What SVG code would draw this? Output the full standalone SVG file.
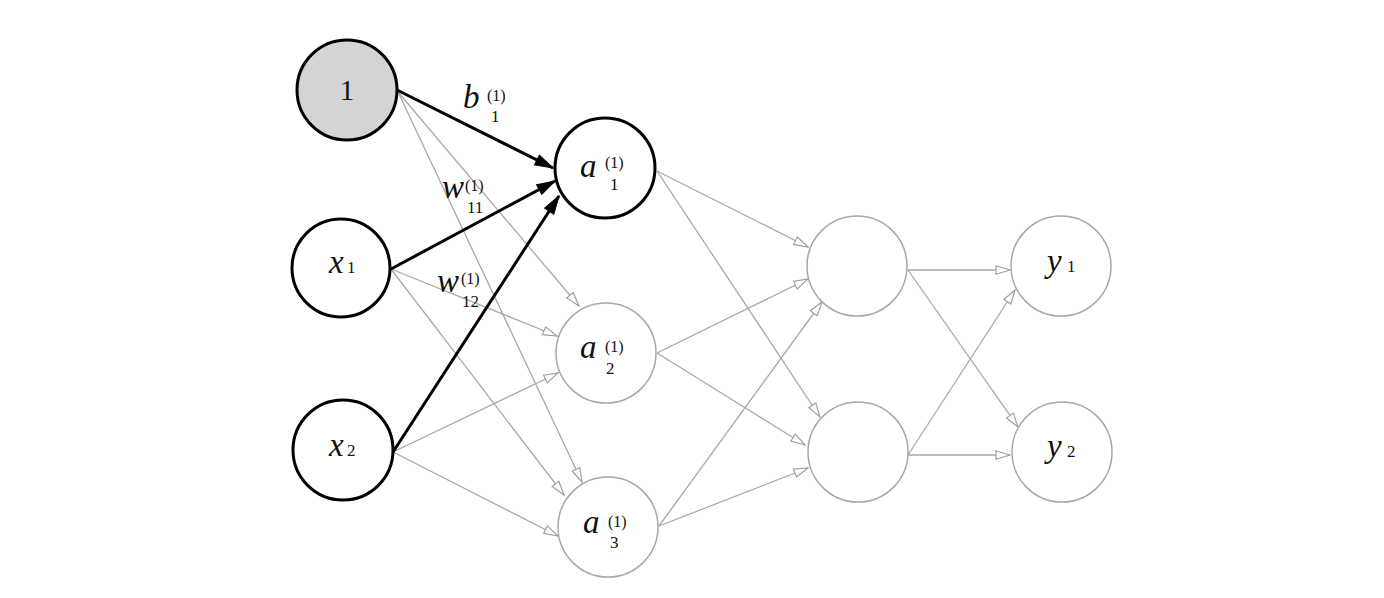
<svg xmlns="http://www.w3.org/2000/svg" width="1384" height="598" viewBox="0 0 1384 598">
<defs>
<marker id="ahB" markerUnits="userSpaceOnUse" markerWidth="20" markerHeight="14" viewBox="0 0 20 14" refX="19" refY="7" orient="auto">
<path d="M1,1.5 L19,7 L1,12.5 Z" fill="#000" stroke="#000" stroke-width="1"/>
</marker>
<marker id="ahG" markerUnits="userSpaceOnUse" markerWidth="16" markerHeight="12" viewBox="0 0 16 12" refX="15" refY="6" orient="auto">
<path d="M1,1.8 L15,6 L1,10.2 Z" fill="#fff" stroke="#a0a0a0" stroke-width="1.2"/>
</marker>
</defs>
<style>
.bk{fill:#fff;stroke:#000;stroke-width:3}
.gr{fill:#fff;stroke:#a8a8a8;stroke-width:1.5}
.eb{stroke:#000;stroke-width:3;fill:none;marker-end:url(#ahB)}
.eg{stroke:#a8a8a8;stroke-width:1.3;fill:none;marker-end:url(#ahG)}
text{font-family:"Liberation Serif","Times New Roman",serif;fill:#111}
.v{font-style:italic;font-size:33px}
.sup{font-size:16px}
.sub{font-size:17px}
.num{font-size:29px}
</style>
<rect width="1384" height="598" fill="#fff"/>
<g id="connectors">
<line class="eg" x1="398" y1="92" x2="579" y2="306"/>
<line class="eg" x1="398" y1="92" x2="582" y2="482"/>
<line class="eg" x1="391" y1="269" x2="557" y2="336"/>
<line class="eg" x1="391" y1="269" x2="564" y2="495"/>
<line class="eg" x1="393" y1="452" x2="558" y2="373"/>
<line class="eg" x1="393" y1="452" x2="558" y2="536"/>
<line class="eg" x1="657" y1="171" x2="808" y2="247"/>
<line class="eg" x1="657" y1="171" x2="820" y2="417"/>
<line class="eg" x1="657" y1="353" x2="808" y2="279"/>
<line class="eg" x1="657" y1="353" x2="805" y2="445"/>
<line class="eg" x1="659" y1="526" x2="822" y2="302"/>
<line class="eg" x1="659" y1="526" x2="808" y2="468"/>
<line class="eg" x1="908" y1="270" x2="1010" y2="270"/>
<line class="eg" x1="908" y1="270" x2="1018" y2="427"/>
<line class="eg" x1="908" y1="455" x2="1015" y2="290"/>
<line class="eg" x1="908" y1="455" x2="1010" y2="455"/>
<line class="eb" x1="397" y1="90" x2="553" y2="168"/>
<line class="eb" x1="391" y1="269" x2="555" y2="181"/>
<line class="eb" x1="393" y1="452" x2="559" y2="196"/>
</g>
<g id="bias">
<circle cx="347" cy="90" r="50" class="bk" style="fill:#d4d4d4"/>
<text x="347" y="100" class="num" text-anchor="middle">1</text>
</g>
<g id="x1">
<circle cx="341" cy="268" r="49" class="bk"/>
<text x="329" y="273" class="v">x</text><text x="347" y="273" class="sub">1</text>
</g>
<g id="x2">
<circle cx="343" cy="450" r="50" class="bk"/>
<text x="329" y="456" class="v">x</text><text x="347" y="456" class="sub">2</text>
</g>
<g id="a1">
<circle cx="605" cy="168" r="50" class="bk"/>
<text x="580" y="177" class="v">a</text><text x="605" y="168" class="sup">(1)</text><text x="610" y="190" class="sub">1</text>
</g>
<g id="a2">
<circle cx="606" cy="353" r="50" class="gr"/>
<text x="580" y="358" class="v">a</text><text x="605" y="352" class="sup">(1)</text><text x="606" y="374" class="sub">2</text>
</g>
<g id="a3">
<circle cx="608" cy="527" r="50" class="gr"/>
<text x="583" y="533" class="v">a</text><text x="608" y="527" class="sup">(1)</text><text x="610" y="548" class="sub">3</text>
</g>
<g id="h1">
<circle cx="857" cy="266" r="50" class="gr"/>
</g>
<g id="h2">
<circle cx="858" cy="452" r="50" class="gr"/>
</g>
<g id="y1">
<circle cx="1061" cy="266" r="50" class="gr"/>
<text x="1047" y="272" class="v">y</text><text x="1067" y="272" class="sub">1</text>
</g>
<g id="y2">
<circle cx="1062" cy="452" r="50" class="gr"/>
<text x="1047" y="457" class="v">y</text><text x="1067" y="457" class="sub">2</text>
</g>
<g id="labels">
<text x="463" y="108" class="v">b</text><text x="487" y="101" class="sup">(1)</text><text x="491" y="122" class="sub">1</text>
<text x="442" y="198" class="v">w</text><text x="465" y="191" class="sup">(1)</text><text x="467" y="213" class="sub">11</text>
<text x="437" y="292" class="v">w</text><text x="461" y="284" class="sup">(1)</text><text x="462" y="307" class="sub">12</text>
</g>
</svg>
